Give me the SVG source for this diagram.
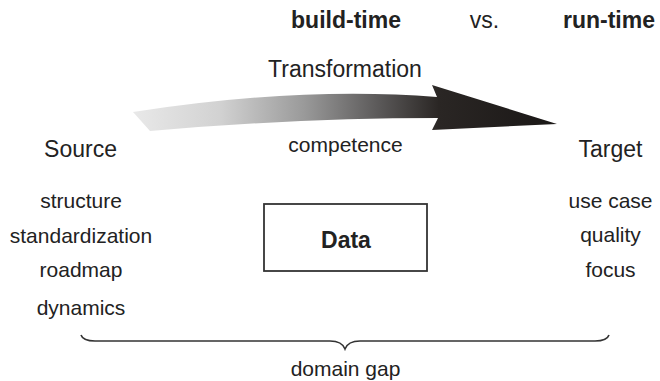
<svg xmlns="http://www.w3.org/2000/svg" width="660" height="381" viewBox="0 0 660 381">
<defs>
<linearGradient id="arrowGrad" gradientUnits="userSpaceOnUse" x1="135" y1="0" x2="557" y2="0">
<stop offset="0" stop-color="#e8e8e8"/>
<stop offset="0.2" stop-color="#d2d2d2"/>
<stop offset="0.4" stop-color="#9a9a9a"/>
<stop offset="0.58" stop-color="#5a5858"/>
<stop offset="0.72" stop-color="#2a2624"/>
<stop offset="1" stop-color="#1a1716"/>
</linearGradient>
<style>
.t{font-family:"Liberation Sans",Arial,sans-serif;fill:#222;text-anchor:middle}
.h{font-size:23px}
.s{font-size:21px}
.b{font-weight:bold}
.box{fill:#fff;stroke:#333;stroke-width:1.8}
.brace{fill:none;stroke:#333;stroke-width:1.6}
</style>
</defs>
<rect width="660" height="381" fill="#fff"/>
<g id="header">
<text class="t h b" x="346" y="28">build-time</text>
<text class="t h" x="484.5" y="28">vs.</text>
<text class="t h b" x="609" y="28">run-time</text>
</g>
<g id="connectors">
<path id="transformation-arrow" fill="url(#arrowGrad)" d="M133,112 Q300,86 437,97 L432,85 L557,124 L432,130 L438,118 Q300,118 150,131 Z"/>
<path id="domain-gap-brace" class="brace" d="M81,335 Q83,341 95,341 L330,341 Q342,341 345,349 Q348,341 360,341 L595,341 Q607,341 609,335"/>
</g>
<g id="transformation">
<text class="t h" x="345" y="77">Transformation</text>
<text class="t s" x="345.5" y="152">competence</text>
</g>
<g id="source">
<text class="t h" x="80.5" y="157">Source</text>
<text class="t s" x="81" y="208">structure</text>
<text class="t s" x="81" y="243">standardization</text>
<text class="t s" x="81" y="277">roadmap</text>
<text class="t s" x="81" y="315">dynamics</text>
</g>
<g id="target">
<text class="t h" x="610.5" y="157">Target</text>
<text class="t s" x="610.5" y="208">use case</text>
<text class="t s" x="610.5" y="242">quality</text>
<text class="t s" x="610.5" y="277">focus</text>
</g>
<g id="data">
<rect class="box" x="264" y="204" width="163" height="67"/>
<text class="t h b" x="346" y="248">Data</text>
</g>
<g id="domain-gap">
<text class="t s" x="345.5" y="376">domain gap</text>
</g>
</svg>
